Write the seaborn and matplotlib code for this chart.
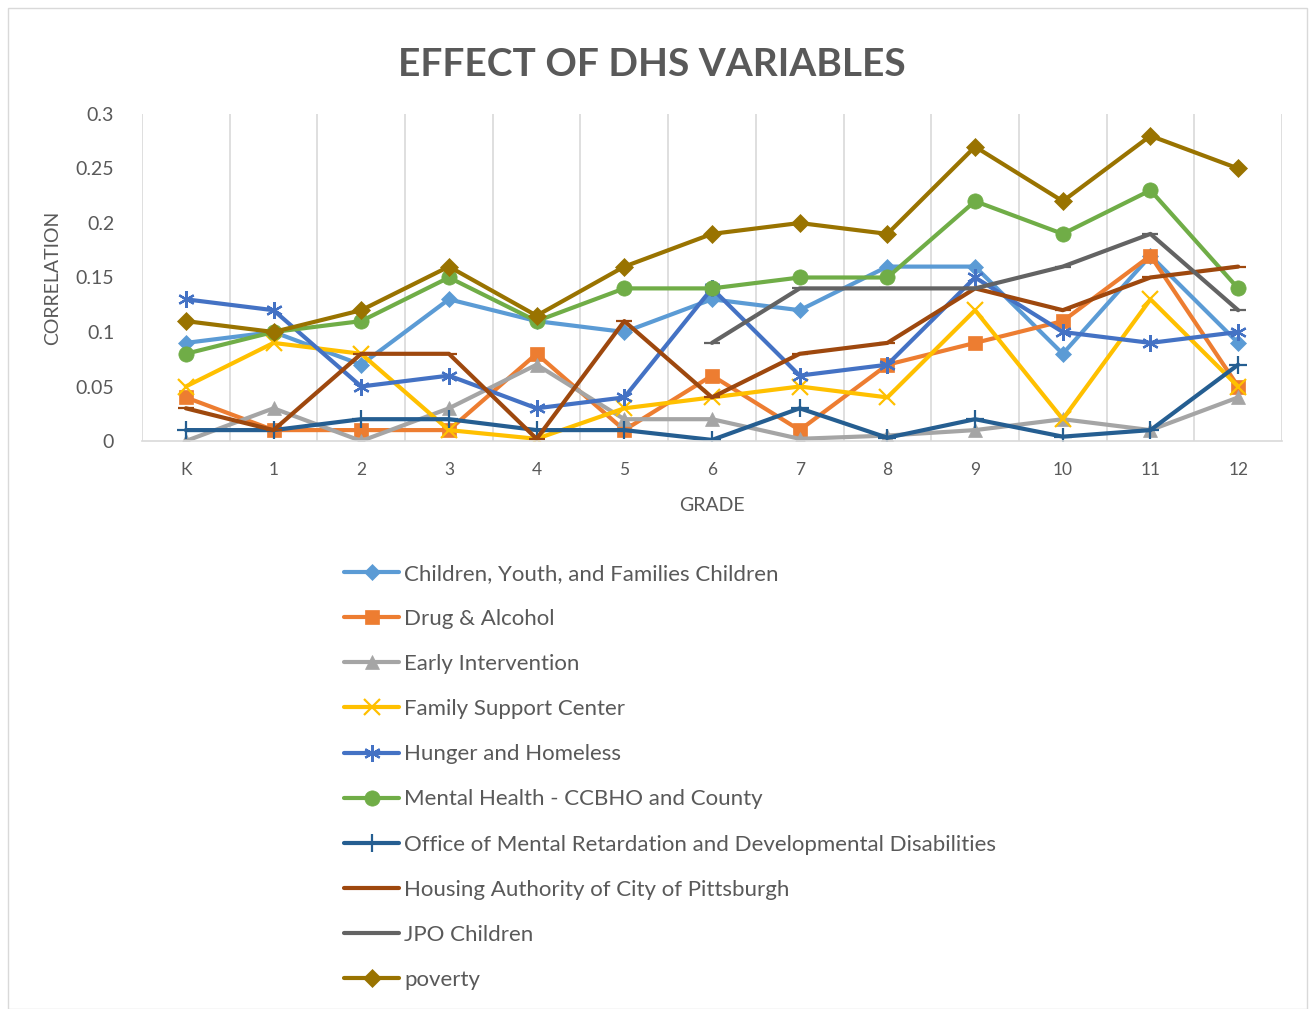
import numpy as np
import pandas as pd
import matplotlib.pyplot as plt
import seaborn as sns
from matplotlib.patches import Rectangle
from matplotlib.ticker import FuncFormatter

# data
grades = ['K', '1', '2', '3', '4', '5', '6', '7', '8', '9', '10', '11', '12']
cyf = [0.09, 0.10, 0.07, 0.13, 0.11, 0.10, 0.13, 0.12, 0.16, 0.16, 0.08, 0.17, 0.09]
drug = [0.04, 0.01, 0.01, 0.01, 0.08, 0.01, 0.06, 0.01, 0.07, 0.09, 0.11, 0.17, 0.05]
early = [0.0, 0.03, 0.0, 0.03, 0.07, 0.02, 0.02, 0.002, 0.005, 0.01, 0.02, 0.01, 0.04]
family = [0.05, 0.09, 0.08, 0.01, 0.002, 0.03, 0.04, 0.05, 0.04, 0.12, 0.02, 0.13, 0.05]
hunger = [0.13, 0.12, 0.05, 0.06, 0.03, 0.04, 0.14, 0.06, 0.07, 0.15, 0.10, 0.09, 0.10]
mental = [0.08, 0.10, 0.11, 0.15, 0.11, 0.14, 0.14, 0.15, 0.15, 0.22, 0.19, 0.23, 0.14]
omr = [0.01, 0.01, 0.02, 0.02, 0.01, 0.01, 0.001, 0.03, 0.003, 0.02, 0.004, 0.01, 0.07]
housing = [0.03, 0.01, 0.08, 0.08, 0.002, 0.11, 0.04, 0.08, 0.09, 0.14, 0.12, 0.15, 0.16]
jpo = [np.nan] * 6 + [0.09, 0.14, 0.14, 0.14, 0.16, 0.19, 0.12]
poverty = [0.11, 0.10, 0.12, 0.16, 0.115, 0.16, 0.19, 0.20, 0.19, 0.27, 0.22, 0.28, 0.25]

names = ['Children, Youth, and Families Children', 'Drug & Alcohol', 'Early Intervention',
         'Family Support Center', 'Hunger and Homeless', 'Mental Health - CCBHO and County',
         'Office of Mental Retardation and Developmental Disabilities',
         'Housing Authority of City of Pittsburgh', 'JPO Children', 'poverty']
series = [cyf, drug, early, family, hunger, mental, omr, housing, jpo, poverty]
colors = ['#5B9BD5', '#ED7D31', '#A5A5A5', '#FFC000', '#4472C4', '#70AD47',
          '#255E91', '#9E480E', '#636363', '#997300']
markers = ['D', 's', '^', 'x', (6, 2, 0), 'o', '+', '_', '_', 'D']
msizes = [8, 10, 10, 11, 12, 11, 13, 12, 12, 9]

sns.set_theme(style='white')
plt.rcParams['font.family'] = ['Lato', 'DejaVu Sans']
text_col = '#595959'

fig = plt.figure(figsize=(13.15, 10.09), dpi=100)
fig.patches.append(Rectangle((8 / 1315, 0), 1299 / 1315, 1 - 8 / 1009, transform=fig.transFigure,
                             fill=False, edgecolor='#D9D9D9', linewidth=1))
ax = fig.add_axes([142 / 1315, 1 - 441 / 1009, 1140 / 1315, 327 / 1009])

x = np.arange(len(grades))
for name, vals, c, m, ms in zip(names, series, colors, markers, msizes):
    d = pd.DataFrame({'grade': x, 'corr': vals}).dropna()
    thin = m in ('x', '+', '_') or isinstance(m, tuple)
    sns.lineplot(data=d, x='grade', y='corr', ax=ax, color=c, marker=m, markersize=ms,
                 markeredgecolor=c, markeredgewidth=1.6 if thin else 0.5,
                 linewidth=3.0, label=name, solid_capstyle='round')

ax.set_xlim(-0.5, 12.5)
ax.set_ylim(0, 0.3)
ax.set_yticks([0, 0.05, 0.1, 0.15, 0.2, 0.25, 0.3])
ax.yaxis.set_major_formatter(FuncFormatter(lambda v, p: f'{v:g}'))
ax.set_xticks(x)
ax.set_xticklabels(grades)
ax.set_xticks(np.arange(-0.5, 13, 1), minor=True)
ax.grid(False)
ax.grid(True, which='minor', axis='x', color='#D9D9D9', linewidth=1.2)
ax.tick_params(axis='both', which='both', length=0, colors=text_col)
ax.tick_params(axis='y', labelsize=14, pad=20)
ax.tick_params(axis='x', labelsize=12.5, pad=15)
for s in ['top', 'right', 'left']:
    ax.spines[s].set_visible(False)
ax.spines['bottom'].set_color('#D9D9D9')
ax.spines['bottom'].set_linewidth(1.2)

ax.set_xlabel('GRADE', fontsize=14, color=text_col, labelpad=14)
ax.set_ylabel('CORRELATION', fontsize=14, color=text_col, labelpad=10)
fig.text(652 / 1315, 1 - 65 / 1009, 'EFFECT OF DHS VARIABLES', ha='center', va='center',
         fontsize=28, fontweight='bold', color=text_col)

handles, labels = ax.get_legend_handles_labels()
ax.get_legend().remove()
fig.legend(handles, labels, loc='upper left', bbox_to_anchor=(335 / 1315, 1 - 555 / 1009),
           frameon=False, fontsize=16, labelcolor=text_col, handlelength=2.5,
           handletextpad=0.2, labelspacing=1.13, borderaxespad=0)

fig.savefig('out.png', dpi=100)
